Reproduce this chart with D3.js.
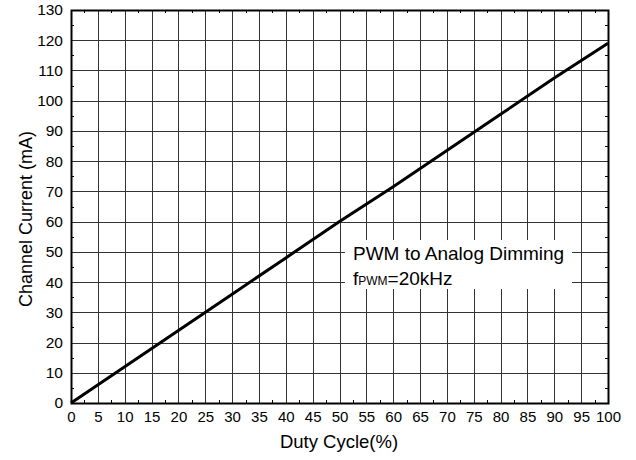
<!DOCTYPE html>
<html><head><meta charset="utf-8">
<script src="https://cdn.jsdelivr.net/npm/d3@7"></script>
<style>body{margin:0;background:#fff}svg{display:block}text{font-family:"Liberation Sans",Arial,sans-serif;fill:#000}</style>
</head><body>
<svg id="c" width="636" height="460"></svg>
<script>
const dutyCycle = [0, 10, 20, 30, 40, 50, 60, 70, 80, 90, 100];
const channelCurrent = [0, 12, 24, 36, 48, 60, 71.5, 83.5, 95.5, 107.5, 119];
const xTicks = d3.range(0, 101, 5);
const yTicks = d3.range(0, 131, 10);
const xTitle = "Duty Cycle(%)";
const yTitle = "Channel Current (mA)";
const note1 = "PWM to Analog Dimming";

const svg = d3.select("#c");
const L = 71, R = 608, T = 10, B = 403;
const x = d3.scaleLinear().domain([0, 100]).range([L, R]);
const y = d3.scaleLinear().domain([0, 130]).range([B, T]);

const g = svg.append("g");
// grid
g.selectAll(".vg").data(xTicks).join("line")
  .attr("x1", d => Math.round(x(d)) + 0.5).attr("x2", d => Math.round(x(d)) + 0.5)
  .attr("y1", T).attr("y2", B).attr("stroke", "#333").attr("stroke-width", 1);
g.selectAll(".hg").data(yTicks).join("line")
  .attr("y1", d => Math.round(y(d)) + 0.5).attr("y2", d => Math.round(y(d)) + 0.5)
  .attr("x1", L).attr("x2", R).attr("stroke", "#333").attr("stroke-width", 1);

// minor ticks
const xMinor = d3.range(2.5, 100, 5);
const yMinor = d3.range(5, 130, 10);
const tk = 3;
xMinor.forEach(d => {
  const px = Math.round(x(d)) + 0.5;
  g.append("line").attr("x1", px).attr("x2", px).attr("y1", B).attr("y2", B - tk).attr("stroke", "#000");
  g.append("line").attr("x1", px).attr("x2", px).attr("y1", T).attr("y2", T + tk).attr("stroke", "#000");
});
yMinor.forEach(d => {
  const py = Math.round(y(d)) + 0.5;
  g.append("line").attr("y1", py).attr("y2", py).attr("x1", L).attr("x2", L + tk).attr("stroke", "#000");
  g.append("line").attr("y1", py).attr("y2", py).attr("x1", R).attr("x2", R - tk).attr("stroke", "#000");
});

// frame
g.append("rect").attr("x", L + 0.5).attr("y", T + 0.5).attr("width", R - L).attr("height", B - T)
  .attr("fill", "none").attr("stroke", "#000").attr("stroke-width", 2);

// note box
svg.append("rect").attr("x", 345).attr("y", 240).attr("width", 227).attr("height", 49).attr("fill", "#fff");
svg.append("text").attr("x", 353).attr("y", 260).attr("font-size", 19).text(note1);
const t2 = svg.append("text").attr("x", 353).attr("y", 285).attr("font-size", 19);
t2.append("tspan").text("f");
t2.append("tspan").attr("font-size", 12).text("PWM");
t2.append("tspan").text("=20kHz");

// line
svg.append("path").datum(dutyCycle.map((d, i) => [d, channelCurrent[i]]))
  .attr("d", d3.line().x(d => x(d[0])).y(d => y(d[1])))
  .attr("fill", "none").attr("stroke", "#000").attr("stroke-width", 3);

// axes labels
const xAxis = d3.axisBottom(x).tickValues(xTicks).tickSize(0).tickPadding(8);
const ax = svg.append("g").attr("transform", `translate(0,${B})`).call(xAxis);
ax.select(".domain").remove();
ax.selectAll("text").attr("font-size", 15).attr("font-family", "Liberation Sans, Arial, sans-serif").attr("fill", "#000");
const yAxis = d3.axisLeft(y).tickValues(yTicks).tickSize(0).tickPadding(8);
const ay = svg.append("g").attr("transform", `translate(${L},0)`).call(yAxis);
ay.select(".domain").remove();
ay.selectAll("text").attr("font-size", 15.5).attr("font-family", "Liberation Sans, Arial, sans-serif").attr("fill", "#000");

svg.append("text").attr("x", 339).attr("y", 448).attr("text-anchor", "middle").attr("font-size", 18.5).text(xTitle);
svg.append("text").attr("transform", "translate(32,219) rotate(-90)").attr("text-anchor", "middle").attr("font-size", 18).text(yTitle);
</script>
</body></html>
